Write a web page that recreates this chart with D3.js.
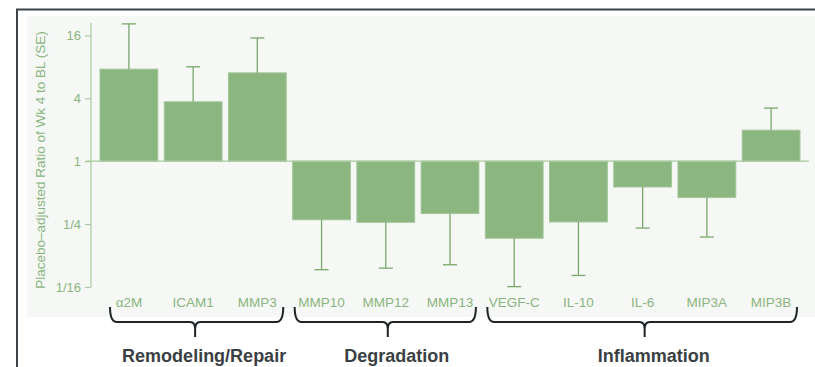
<!DOCTYPE html>
<html>
<head>
<meta charset="utf-8">
<script src="https://cdn.jsdelivr.net/npm/d3@7"></script>
<style>
  html, body { margin: 0; padding: 0; background: #ffffff; }
  svg { display: block; font-family: Arial, "Liberation Sans", sans-serif; }
</style>
</head>
<body>
<svg id="chart" width="815" height="367"></svg>
<script>
// Biomarkers, in plotting order
const markers = ["α2M", "ICAM1", "MMP3", "MMP10", "MMP12", "MMP13", "VEGF-C", "IL-10", "IL-6", "MIP3A", "MIP3B"];
// Placebo-adjusted ratio of week 4 to baseline
const ratios = [7.6, 3.7, 7.0, 0.275, 0.26, 0.315, 0.183, 0.262, 0.566, 0.448, 1.98];
// End of the SE whisker (above for increases, below for decreases)
const seEnds = [20.6, 8.0, 15.1, 0.0915, 0.0947, 0.102, 0.063, 0.0806, 0.229, 0.188, 3.22];
// Y axis ticks
const tickValues = [1/16, 1/4, 1, 4, 16];
const tickLabels = ["1/16", "1/4", "1", "4", "16"];
// Functional groups (index range into markers)
const groupNames = ["Remodeling/Repair", "Degradation", "Inflammation"];
const groupStart = [0, 3, 6];
const groupEnd = [2, 5, 10];

const svg = d3.select("#chart");

// Frame and panel background
svg.append("rect").attr("x", 27).attr("y", 16).attr("width", 788).attr("height", 301).attr("fill", "#f6f8f5");
svg.append("path").attr("d", "M17,367 L17,9.5 L815,9.5")
  .attr("fill", "none").attr("stroke", "#3d4347").attr("stroke-width", 2);

const x = d3.scaleBand().domain(markers).range([96.8, 803.2]).paddingInner(0.1).paddingOuter(0.05);
const y = d3.scaleLog().base(2).domain([1/16, 21]).range([287, 23]);

const green = "#8bb680";
const whisker = "#79a86c";
const axisCol = "#a9cba0";
const textCol = "#8ab57f";

// Y axis
const yAxis = d3.axisLeft(y).tickValues(tickValues).tickFormat((d, i) => tickLabels[i]).tickSize(6).tickPadding(4);
const gy = svg.append("g").attr("transform", "translate(91,0)").call(yAxis);
gy.select(".domain").attr("stroke", axisCol).attr("stroke-width", 1.2).attr("d", `M0,${y.range()[1]}V${y.range()[0]}`);
gy.selectAll(".tick line").attr("stroke", axisCol).attr("stroke-width", 1.2);
gy.selectAll(".tick text").attr("fill", textCol).attr("font-size", 13).attr("font-family", "Arial, 'Liberation Sans', sans-serif");

svg.append("text")
  .attr("transform", `translate(44.5,${(y.range()[0] + y.range()[1]) / 2 + 5}) rotate(-90)`)
  .attr("text-anchor", "middle")
  .attr("fill", textCol)
  .attr("font-size", 13.5)
  .text("Placebo–adjusted Ratio of Wk 4 to BL (SE)");

// Bars
svg.append("g").selectAll("rect").data(markers).join("rect")
  .attr("x", d => x(d))
  .attr("width", x.bandwidth())
  .attr("y", (d, i) => Math.min(y(ratios[i]), y(1)))
  .attr("height", (d, i) => Math.abs(y(ratios[i]) - y(1)))
  .attr("fill", green)
  .attr("stroke", "#a3c79a")
  .attr("stroke-width", 1);

// Baseline at ratio 1
svg.append("line").attr("x1", 86).attr("x2", 809).attr("y1", y(1)).attr("y2", y(1))
  .attr("stroke", axisCol).attr("stroke-width", 1.2);

// SE whiskers
const eg = svg.append("g").attr("stroke", whisker).attr("stroke-width", 1.3);
markers.forEach((m, i) => {
  const cx = x(m) + x.bandwidth() / 2;
  eg.append("line").attr("x1", cx).attr("x2", cx).attr("y1", y(ratios[i])).attr("y2", y(seEnds[i]));
  eg.append("line").attr("x1", cx - 7).attr("x2", cx + 7).attr("y1", y(seEnds[i])).attr("y2", y(seEnds[i]));
});

// Category labels
svg.append("g").selectAll("text").data(markers).join("text")
  .attr("x", d => x(d) + x.bandwidth() / 2)
  .attr("y", 307)
  .attr("text-anchor", "middle")
  .attr("fill", textCol)
  .attr("font-size", 13.5)
  .text(d => d);

// Group braces and labels
const braceTop = 307, braceY = 322, braceTip = 337;
groupNames.forEach((name, g) => {
  const left = x(markers[groupStart[g]]);
  const right = x(markers[groupEnd[g]]) + x.bandwidth();
  const x0 = left + (g === 0 ? 10 : 2);
  const x1 = right - 3;
  const xm = (left + right) / 2 + 2;
  const p = d3.path();
  p.moveTo(x0, braceTop);
  p.quadraticCurveTo(x0, braceY, x0 + 7, braceY);
  p.lineTo(xm - 5, braceY);
  p.quadraticCurveTo(xm, braceY, xm, braceY + 7);
  p.lineTo(xm, braceTip);
  p.moveTo(xm, braceY + 7);
  p.quadraticCurveTo(xm, braceY, xm + 5, braceY);
  p.lineTo(x1 - 7, braceY);
  p.quadraticCurveTo(x1, braceY, x1, braceTop);
  svg.append("path").attr("d", p.toString())
    .attr("fill", "none").attr("stroke", "#1f2326").attr("stroke-width", 2);
  svg.append("text")
    .attr("x", (left + right) / 2 + 11)
    .attr("y", 362)
    .attr("text-anchor", "middle")
    .attr("font-weight", "bold")
    .attr("font-size", 18)
    .attr("fill", "#3a3f44")
    .text(name);
});
</script>
</body>
</html>
